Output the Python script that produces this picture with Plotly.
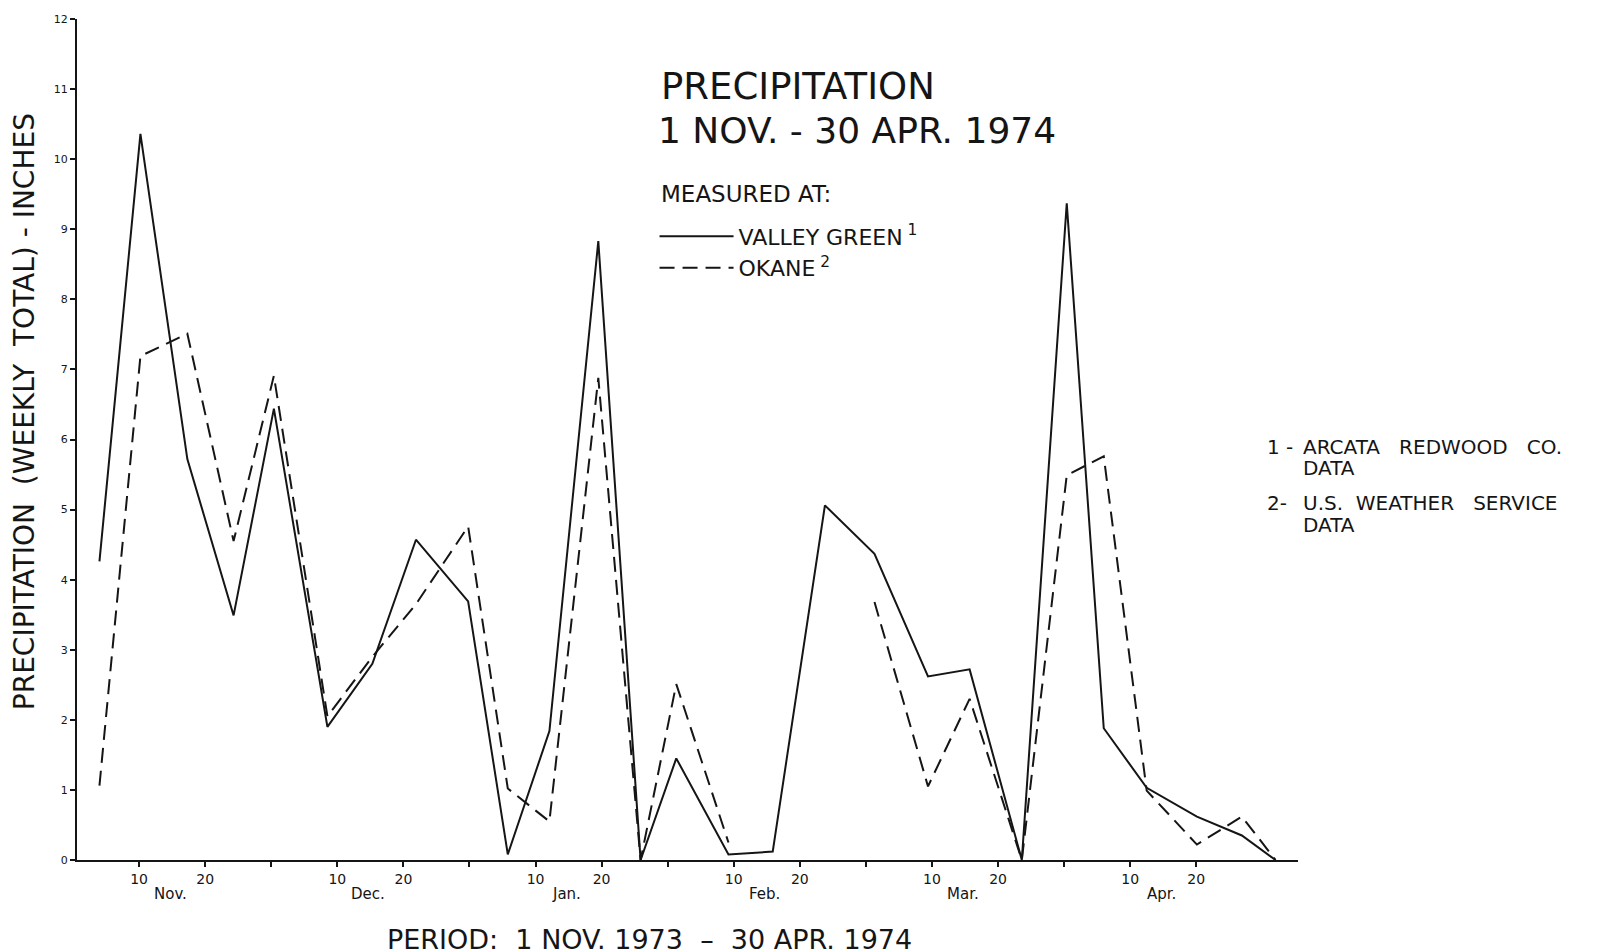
import plotly.graph_objects as go

# Day index on a 30-day-per-month scale: Nov 10 = 10, Dec 10 = 40, ... Apr 20 = 170
week_day = [4.0, 10.2, 17.3, 24.3, 30.4, 38.5, 45.3, 51.9, 59.8, 65.8, 72.1, 79.5, 85.9, 91.3,
            99.2, 105.9, 113.8, 121.3, 129.4, 135.7, 143.6, 150.4, 156.0, 162.5, 170.1, 176.9, 182.0]
valley_green = [4.26, 10.36, 5.72, 3.49, 6.44, 1.90, 2.80, 4.57, 3.69, 0.08, 1.84, 8.83, 0.0, 1.45,
                0.08, 0.12, 5.06, 4.37, 2.62, 2.72, 0.0, 9.37, 1.88, 1.03, 0.62, 0.35, 0.0]
okane = [1.06, 7.19, 7.51, 4.55, 6.91, 2.05, 2.90, 3.65, 4.76, 1.02, 0.55, 6.88, 0.0, 2.51,
         0.25, None, None, 3.68, 1.05, 2.30, 0.0, 5.49, 5.76, 0.99, 0.22, 0.62, 0.0]

months = ["Nov.", "Dec.", "Jan.", "Feb.", "Mar.", "Apr."]
x_label_vals = [10 + 30 * i + k for i in range(6) for k in (0, 10)]
x_label_text = ["10", "20"] * 6
x_minor_vals = [30, 60, 90, 120, 150]
y_tickvals = list(range(0, 13))

FONT = "DejaVu Sans"
INK = "#151515"

W, H = 1615, 952
ML, MR, MT, MB = 69, 325, 5, 100
PAGE_OFF = 8  # page offset of the figure
PLOT_BOTTOM = PAGE_OFF + H - MB
PLOT_H = H - MT - MB
PLOT_LEFT = PAGE_OFF + ML
PLOT_W = W - ML - MR


def py(page_y):
    return (PLOT_BOTTOM - page_y) / PLOT_H


def px(page_x):
    return (page_x - PLOT_LEFT) / PLOT_W


fig = go.Figure()
fig.add_trace(go.Scatter(x=week_day, y=valley_green, mode="lines", name="VALLEY GREEN<sup> 1</sup>",
                         line=dict(color=INK, width=2)))
fig.add_trace(go.Scatter(x=week_day, y=okane, mode="lines", name="OKANE<sup> 2</sup>",
                         connectgaps=False,
                         line=dict(color=INK, width=2, dash="15px,8px")))

XR = [0.6, 185.4]
YR = [0, 12]
fig.update_layout(
    width=W, height=H,
    margin=dict(l=ML, r=MR, t=MT, b=MB),
    paper_bgcolor="white", plot_bgcolor="white",
    font=dict(family=FONT, color=INK),
    showlegend=True,
    legend=dict(x=0.473, y=py(248), xanchor="left", yanchor="middle",
                bgcolor="rgba(0,0,0,0)", itemwidth=74, tracegroupgap=0,
                font=dict(size=22, family=FONT, color=INK)),
    xaxis=dict(range=XR, showgrid=False, zeroline=False, showline=True, linecolor=INK, linewidth=2,
               ticks="outside", ticklen=5, tickwidth=1.5, tickcolor=INK,
               tickmode="array", tickvals=x_label_vals, ticktext=x_label_text,
               tickfont=dict(size=14, family=FONT, color=INK),
               minor=dict(tickmode="array", tickvals=x_minor_vals, ticks="outside",
                          ticklen=5, tickwidth=1.5, tickcolor=INK, showgrid=False)),
    yaxis=dict(range=YR, showgrid=False, zeroline=False, showline=True, linecolor=INK, linewidth=2,
               ticks="outside", ticklen=5, tickwidth=1.5, tickcolor=INK,
               tickmode="array", tickvals=y_tickvals, ticklabeloverflow="allow",
               tickfont=dict(size=11, family=FONT, color=INK)),
    xaxis2=dict(range=XR, overlaying="x", anchor="y", side="bottom", showgrid=False, zeroline=False,
                showline=False, ticks="inside", ticklen=4, tickwidth=1.5, tickcolor=INK,
                tickmode="array", tickvals=sorted(x_label_vals + x_minor_vals), showticklabels=False),
    yaxis2=dict(range=YR, overlaying="y", anchor="x", side="left", showgrid=False, zeroline=False,
                showline=False, ticks="inside", ticklen=4, tickwidth=1.5, tickcolor=INK,
                tickmode="array", tickvals=y_tickvals, showticklabels=False),
)

ann = []
for i, m in enumerate(months):
    ann.append(dict(x=14.7 + 30 * i, xref="x", y=py(894), yref="paper", text=m, showarrow=False,
                    xanchor="center", yanchor="middle", font=dict(size=15, family=FONT, color=INK)))


def note(x, y, text, size=20):
    return dict(x=x, y=y, xref="paper", yref="paper", text=text, showarrow=False,
                xanchor="left", yanchor="middle", font=dict(size=size, family=FONT, color=INK))


ann += [
    note(px(659), py(81), "PRECIPITATION", 37),
    note(px(656), py(125), "1 NOV. - 30 APR. 1974", 36),
    note(px(659), py(189), "MEASURED AT:", 23),
    note(px(1265), py(444), "1 -"),
    note(px(1301), py(444), "ARCATA   REDWOOD   CO."),
    note(px(1301), py(465), "DATA"),
    note(px(1265), py(500), "2-"),
    note(px(1301), py(500), "U.S.  WEATHER   SERVICE"),
    note(px(1301), py(523), "DATA"),
    dict(x=px(649), y=py(940), xref="paper", yref="paper", text="PERIOD:  1 NOV. 1973  \u2013  30 APR. 1974",
         showarrow=False, xanchor="center", yanchor="middle", font=dict(size=27, family=FONT, color=INK)),
    dict(x=px(24), y=py(409), xref="paper", yref="paper", text="PRECIPITATION  (WEEKLY  TOTAL) - INCHES",
         showarrow=False, textangle=-90, xanchor="center", yanchor="middle",
         font=dict(size=28, family=FONT, color=INK)),
]
fig.update_layout(annotations=ann)

fig.write_html("out.html")
